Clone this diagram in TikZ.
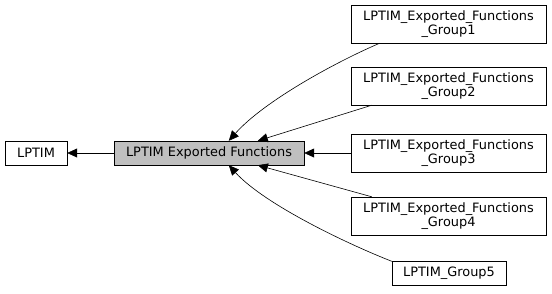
\documentclass[tikz,border=0pt]{standalone}
\usepackage{fontspec}
\setmainfont{DejaVu Sans}
\usetikzlibrary{arrows.meta}

\tikzset{
  group/.style={draw, fill=white, inner sep=0pt, minimum width=195, minimum height=38, align=center},
  module/.style={draw, fill=white, inner sep=0pt, minimum height=24},
  edge/.style={-{Triangle[length=10pt, width=9pt]}, semithick}
}

\begin{document}
\begin{tikzpicture}[x=1pt, y=-1pt, font=\fontsize{12.9}{14}\selectfont]
      \useasboundingbox (0,0) rectangle (552,293);

      % Modules
      \node[module, minimum width=62] (lptim) at (36,153) {LPTIM};
      \node[module, minimum width=190, fill=black!25] (exp) at (209,153) {LPTIM Exported Functions};

      % Groups
      \node[group] (g1) at (448.5,24) {LPTIM\_Exported\_Functions\\\_Group1};
      \node[group] (g2) at (448.5,86) {LPTIM\_Exported\_Functions\\\_Group2};
      \node[group] (g3) at (448.5,153) {LPTIM\_Exported\_Functions\\\_Group3};
      \node[group] (g4) at (448.5,216) {LPTIM\_Exported\_Functions\\\_Group4};
      \node[module, minimum width=114] (g5) at (449,273.5) {LPTIM\_Group5};

      % Edges
      \draw[edge] (exp) -- (lptim);
      \draw[edge] ([xshift=29]g1.south west) .. controls (340,60) and (265,100) .. ([xshift=115]exp.north west);
      \draw[edge] ([xshift=21]g2.south west) -- ([xshift=144]exp.north west);
      \draw[edge] (g3) -- (exp);
      \draw[edge] ([xshift=21]g4.north west) -- ([xshift=144]exp.south west);
      \draw[edge] (g5.north west) .. controls (350,245) and (265,205) .. ([xshift=115]exp.south west);
\end{tikzpicture}
\end{document}
